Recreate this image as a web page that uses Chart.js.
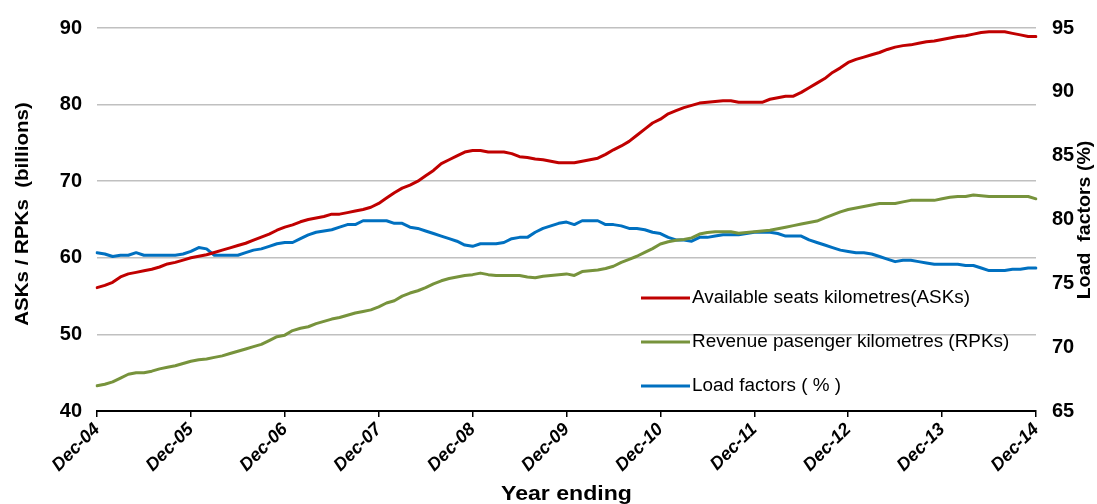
<!DOCTYPE html>
<html>
<head>
    <title>ASKs / RPKs and load factors</title>
    <script src="https://cdn.jsdelivr.net/npm/chart.js"></script>
    <style>
        body { margin: 0; background: #fff; }
        #wrap { width: 1097px; height: 504px; position: relative; }
    </style>
</head>
<body>
    <div id="wrap"><canvas id="airChart"></canvas></div>
    <script>
        // monthly, Dec-04 .. Dec-14 (year ending)
        const monthNames = ['Dec', 'Jan', 'Feb', 'Mar', 'Apr', 'May', 'Jun', 'Jul', 'Aug', 'Sep', 'Oct', 'Nov'];
        const yearTicks = ['Dec-04', 'Dec-05', 'Dec-06', 'Dec-07', 'Dec-08', 'Dec-09', 'Dec-10', 'Dec-11', 'Dec-12', 'Dec-13', 'Dec-14'];

        const asks = [
            56.1, 56.4, 56.8, 57.5, 57.9, 58.1, 58.3, 58.5, 58.8, 59.2, 59.4, 59.7,
            60.0, 60.2, 60.4, 60.7, 61.0, 61.3, 61.6, 61.9, 62.3, 62.7, 63.1, 63.6,
            64.0, 64.3, 64.7, 65.0, 65.2, 65.4, 65.7, 65.7, 65.9, 66.1, 66.3, 66.6,
            67.1, 67.8, 68.5, 69.1, 69.5, 70.0, 70.7, 71.4, 72.3, 72.8, 73.3, 73.8,
            74.0, 74.0, 73.8, 73.8, 73.8, 73.6, 73.2, 73.1, 72.9, 72.8, 72.6, 72.4,
            72.4, 72.4, 72.6, 72.8, 73.0, 73.5, 74.1, 74.6, 75.2, 76.0, 76.8, 77.6,
            78.1, 78.8, 79.2, 79.6, 79.9, 80.2, 80.3, 80.4, 80.5, 80.5, 80.3, 80.3,
            80.3, 80.3, 80.7, 80.9, 81.1, 81.1, 81.6, 82.2, 82.8, 83.4, 84.2, 84.8,
            85.5, 85.9, 86.2, 86.5, 86.8, 87.2, 87.5, 87.7, 87.8, 88.0, 88.2, 88.3,
            88.5, 88.7, 88.9, 89.0, 89.2, 89.4, 89.5, 89.5, 89.5, 89.3, 89.1, 88.9,
            88.9
        ];
        const rpks = [
            43.3, 43.5, 43.8, 44.3, 44.8, 45.0, 45.0, 45.2, 45.5, 45.7, 45.9, 46.2,
            46.5, 46.7, 46.8, 47.0, 47.2, 47.5, 47.8, 48.1, 48.4, 48.7, 49.2, 49.7,
            49.9, 50.5, 50.8, 51.0, 51.4, 51.7, 52.0, 52.2, 52.5, 52.8, 53.0, 53.2,
            53.6, 54.1, 54.4, 55.0, 55.4, 55.7, 56.1, 56.6, 57.0, 57.3, 57.5, 57.7,
            57.8, 58.0, 57.8, 57.7, 57.7, 57.7, 57.7, 57.5, 57.4, 57.6, 57.7, 57.8,
            57.9, 57.7, 58.2, 58.3, 58.4, 58.6, 58.9, 59.4, 59.8, 60.2, 60.7, 61.2,
            61.8, 62.1, 62.3, 62.4, 62.6, 63.1, 63.3, 63.4, 63.4, 63.4, 63.2, 63.3,
            63.4, 63.5, 63.6, 63.8, 64.0, 64.2, 64.4, 64.6, 64.8, 65.2, 65.6, 66.0,
            66.3, 66.5, 66.7, 66.9, 67.1, 67.1, 67.1, 67.3, 67.5, 67.5, 67.5, 67.5,
            67.7, 67.9, 68.0, 68.0, 68.2, 68.1, 68.0, 68.0, 68.0, 68.0, 68.0, 68.0,
            67.7
        ];
        const loadFactors = [
            77.4, 77.3, 77.1, 77.2, 77.2, 77.4, 77.2, 77.2, 77.2, 77.2, 77.2, 77.3,
            77.5, 77.8, 77.7, 77.2, 77.2, 77.2, 77.2, 77.4, 77.6, 77.7, 77.9, 78.1,
            78.2, 78.2, 78.5, 78.8, 79.0, 79.1, 79.2, 79.4, 79.6, 79.6, 79.9, 79.9,
            79.9, 79.9, 79.7, 79.7, 79.4, 79.3, 79.1, 78.9, 78.7, 78.5, 78.3, 78.0,
            77.9, 78.1, 78.1, 78.1, 78.2, 78.5, 78.6, 78.6, 79.0, 79.3, 79.5, 79.7,
            79.8, 79.6, 79.9, 79.9, 79.9, 79.6, 79.6, 79.5, 79.3, 79.3, 79.2, 79.0,
            78.9, 78.6, 78.4, 78.4, 78.3, 78.6, 78.6, 78.7, 78.8, 78.8, 78.8, 78.9,
            79.0, 79.0, 79.0, 78.9, 78.7, 78.7, 78.7, 78.4, 78.2, 78.0, 77.8, 77.6,
            77.5, 77.4, 77.4, 77.3, 77.1, 76.9, 76.7, 76.8, 76.8, 76.7, 76.6, 76.5,
            76.5, 76.5, 76.5, 76.4, 76.4, 76.2, 76.0, 76.0, 76.0, 76.1, 76.1, 76.2,
            76.2
        ];

        const seriesNames = ['Available seats kilometres(ASKs)', 'Revenue pasenger kilometres (RPKs)', 'Load factors ( % )'];
        const seriesColors = ['#C00000', '#77933C', '#0070C0'];

        // month labels: Dec-04, Jan-05, ... Dec-14
        const labels = asks.map((v, i) => {
            const yr = 4 + Math.ceil(i / 12);
            return monthNames[i % 12] + '-' + String(yr).padStart(2, '0');
        });

        const FONT = 'Liberation Sans, Arial, sans-serif';

        // text a bit wider than the font, like the original picture
        function wideText(ctx, text, x, y, angle, sx) {
            ctx.save();
            ctx.translate(x, y);
            ctx.rotate(angle);
            ctx.scale(sx, 1);
            ctx.fillText(text, 0, 0);
            ctx.restore();
        }

        // axis titles + in-plot legend
        const extras = {
            id: 'extras',
            afterDraw(chart) {
                const ctx = chart.ctx;
                const area = chart.chartArea;
                ctx.save();
                ctx.fillStyle = '#000';
                ctx.textAlign = 'center';
                ctx.textBaseline = 'middle';
                ctx.font = 'bold 21px ' + FONT;
                wideText(ctx, 'Year ending', (area.left + area.right) / 2, 494, 0, 1.1);

                ctx.font = 'bold 19px ' + FONT;
                wideText(ctx, 'ASKs / RPKs  (billions)', 23, 214, -Math.PI / 2, 1.08);
                wideText(ctx, 'Load  factors (%)', 1085, 220, -Math.PI / 2, 1.03);

                ctx.textAlign = 'left';
                ctx.font = '18px ' + FONT;
                const rows = [298, 342, 386];
                seriesNames.forEach((name, i) => {
                    ctx.strokeStyle = seriesColors[i];
                    ctx.lineWidth = 3;
                    ctx.beginPath();
                    ctx.moveTo(641, rows[i]);
                    ctx.lineTo(690, rows[i]);
                    ctx.stroke();
                    wideText(ctx, name, 692, rows[i], 0, 1.05);
                });
                ctx.restore();
            }
        };

        const ctx = document.getElementById('airChart').getContext('2d');
        const chart = new Chart(ctx, {
            type: 'line',
            data: {
                labels: labels,
                datasets: [
                    { label: seriesNames[0], data: asks, yAxisID: 'y', borderColor: seriesColors[0] },
                    { label: seriesNames[1], data: rpks, yAxisID: 'y', borderColor: seriesColors[1] },
                    { label: seriesNames[2], data: loadFactors, yAxisID: 'y1', borderColor: seriesColors[2] }
                ]
            },
            options: {
                responsive: true,
                maintainAspectRatio: false,
                animation: false,
                layout: { padding: { top: 26, left: 0, right: 0, bottom: 0 } },
                elements: {
                    point: { radius: 0 },
                    line: { borderWidth: 3, tension: 0, borderCapStyle: 'round', borderJoinStyle: 'round' }
                },
                plugins: {
                    legend: { display: false },
                    tooltip: { enabled: false }
                },
                scales: {
                    x: {
                        type: 'category',
                        offset: false,
                        afterBuildTicks: (scale) => {
                            scale.ticks = scale.ticks.filter((t, i) => i % 12 === 0);
                        },
                        afterFit: (scale) => { scale.height = 93; },
                        ticks: {
                            autoSkip: false,
                            minRotation: 45,
                            maxRotation: 45,
                            padding: 2,
                            color: '#000',
                            font: { family: FONT, size: 18, weight: 'bold', style: 'italic' },
                            callback: function (value, index) { return yearTicks[index]; }
                        },
                        grid: { drawOnChartArea: false, drawTicks: true, tickLength: 6, color: '#000', lineWidth: 1.5 },
                        border: { display: true, color: '#000', width: 2 }
                    },
                    y: {
                        position: 'left',
                        min: 40,
                        max: 90,
                        afterFit: (scale) => { scale.width = 97; },
                        ticks: {
                            stepSize: 10,
                            padding: 15,
                            color: '#000',
                            font: { family: FONT, size: 20, weight: 'bold' }
                        },
                        grid: { color: '#C0C0C0', lineWidth: 1.5, drawTicks: false },
                        border: { display: false }
                    },
                    y1: {
                        position: 'right',
                        min: 65,
                        max: 95,
                        afterFit: (scale) => { scale.width = 61; },
                        ticks: {
                            stepSize: 5,
                            padding: 16,
                            color: '#000',
                            font: { family: FONT, size: 20, weight: 'bold' }
                        },
                        grid: { drawOnChartArea: false, drawTicks: false },
                        border: { display: false }
                    }
                }
            },
            plugins: [extras]
        });
    </script>
</body>
</html>
